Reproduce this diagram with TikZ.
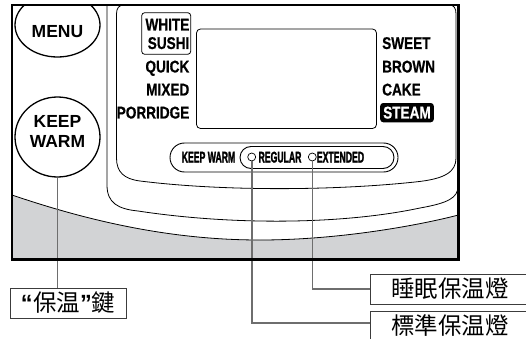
\documentclass[tikz,border=0pt]{standalone}
\usepackage{fontspec}
\setmainfont{Liberation Sans}
\newfontfamily\condfont[FakeStretch=0.8, BoldFeatures={FakeBold=0.6}]{Liberation Sans}
\newfontfamily\narrowfont[FakeStretch=0.56, BoldFeatures={FakeBold=1.6}]{Liberation Sans}
\newfontfamily\cjkfont{Noto Sans CJK TC}
\usetikzlibrary{shapes.geometric}
\definecolor{panelgrey}{HTML}{D2D3D5}
\definecolor{leadergrey}{HTML}{6E6E6E}
\definecolor{boxgrey}{HTML}{3C3C3C}
\begin{document}
\begin{tikzpicture}[x=1pt,y=-1pt,
  frameline/.style={line width=2.2pt},
  thinline/.style={line width=0.8pt},
  btnshape/.style={draw, line width=1.3pt, ellipse, minimum width=85pt, minimum height=80pt, inner sep=0pt},
  btntxt/.style={font=\bfseries\fontsize{17.5}{19}\selectfont, inner sep=0pt, anchor=base},
  lefttxt/.style={font=\condfont\bfseries\fontsize{17}{17}\selectfont, inner sep=0pt, anchor=base east},
  righttxt/.style={font=\condfont\bfseries\fontsize{17}{17}\selectfont, inner sep=0pt, anchor=base west},
  pilltxt/.style={font=\narrowfont\bfseries\fontsize{15.5}{15.5}\selectfont, inner sep=0pt, anchor=base},
  led/.style={draw, circle, line width=0.7pt, minimum size=8pt, inner sep=0pt},
  leader/.style={draw=leadergrey, line width=1.6pt},
  lblbox/.style={draw=boxgrey, line width=1pt, inner sep=0pt, minimum height=30pt, font=\cjkfont\fontsize{23.5}{23.5}\selectfont}
]
\useasboundingbox (0,0) rectangle (526,339);

% grey lower area
\fill[panelgrey] (12,195) .. controls (100,225) and (180,240) .. (260,240) .. controls (340,240) and (420,225) .. (458.5,215) -- (458.5,259.5) -- (12,259.5) -- cycle;
\draw[thinline] (12,195) .. controls (100,225) and (180,240) .. (260,240) .. controls (340,240) and (420,225) .. (458.5,215);

% outer bezel curve (divider)
\draw[thinline] (107,5) -- (107,185) .. controls (107,203) and (118,209) .. (138,211) .. controls (230,225) and (340,225) .. (420,208) .. controls (448,203) and (458,198) .. (458,186);
% inner display panel
\draw[thinline] (124,5) .. controls (119,5) and (116.5,8) .. (116.5,14) -- (116.5,158) .. controls (116.5,172) and (124,179) .. (140,181) .. controls (220,191) and (330,191) .. (415,182) .. controls (445,179) and (456,172) .. (456,158) -- (456,14) .. controls (456,8) and (454,5) .. (449,5);

% buttons
\begin{scope}
  \clip (12,5) rectangle (458.5,259.5);
  \node[btnshape, minimum height=64pt] (menubtn) at (57.5,25) {};
\end{scope}
\node[btntxt] (tmenu) at (57.5,37.8) {MENU};
\node[btnshape] (kwbtn) at (57.5,137) {};
\node[btntxt] (tkeep) at (57.5,128) {KEEP};
\node[btntxt] (twarm) at (57.5,147) {WARM};

% menu labels
\node[draw, thinline, rounded corners=3pt, minimum width=49pt, minimum height=41.6pt, inner sep=0pt] (wsbox) at (166.2,33.5) {};
\node[lefttxt] (twhite) at (189.5,30.5) {WHITE};
\node[lefttxt] (tsushi) at (189.5,49) {SUSHI};
\node[lefttxt] (tquick) at (189.5,72.5) {QUICK};
\node[lefttxt] (tmixed) at (189.5,95.5) {MIXED};
\node[lefttxt] (tporr) at (189.5,118.5) {PORRIDGE};
\node[righttxt] (tsweet) at (382,49) {SWEET};
\node[righttxt] (tbrown) at (382,72.5) {BROWN};
\node[righttxt] (tcake) at (382,95.5) {CAKE};
\node[righttxt, fill=black, text=white, rounded corners=3pt, inner xsep=3pt, inner ysep=3.6pt] (tsteam) at (380,118.5) {STEAM};

% display
\node[draw, thinline, rounded corners=4pt, minimum width=180pt, minimum height=99.5pt, inner sep=0pt] (display) at (286.5,78.75) {};

% keep warm pill
\node[draw, line width=0.9pt, rounded corners=14.5pt, minimum width=228pt, minimum height=29pt, inner sep=0pt] (pill) at (284,157.5) {};
\node[draw, line width=0.9pt, rounded corners=11pt, minimum width=154pt, minimum height=22pt, inner sep=0pt] (pillin) at (317,157.5) {};
\node[pilltxt] (tkw) at (208.5,162.5) {KEEP WARM};
\node[pilltxt] (treg) at (280,162.5) {REGULAR};
\node[pilltxt] (text) at (340.5,162.5) {EXTENDED};
\node[led] (ledreg) at (251.7,157) {};
\node[led] (ledext) at (312.3,157) {};

% callout labels
\node[lblbox, minimum width=116pt] (kwlabel) at (68,303) {{\rmfamily\bfseries “\kern0.5pt}保温{\rmfamily\bfseries ”}鍵};
\node[lblbox, minimum width=160pt] (lbl1) at (450,289) {睡眠保温燈\hspace{5pt}};
\node[lblbox, minimum width=160pt] (lbl2) at (450,326) {\raisebox{3pt}{標準保温燈}\hspace{5pt}};

% leaders
\draw[leader] (kwbtn.south) -- (kwbtn.south |- kwlabel.north);
\draw[leader] (ledext.south) |- (lbl1.west);
\draw[leader] (ledreg.south) |- ([yshift=3pt]lbl2.west);

% frame
\draw[frameline] (12,5) rectangle (458.5,259.5);
\end{tikzpicture}
\end{document}
